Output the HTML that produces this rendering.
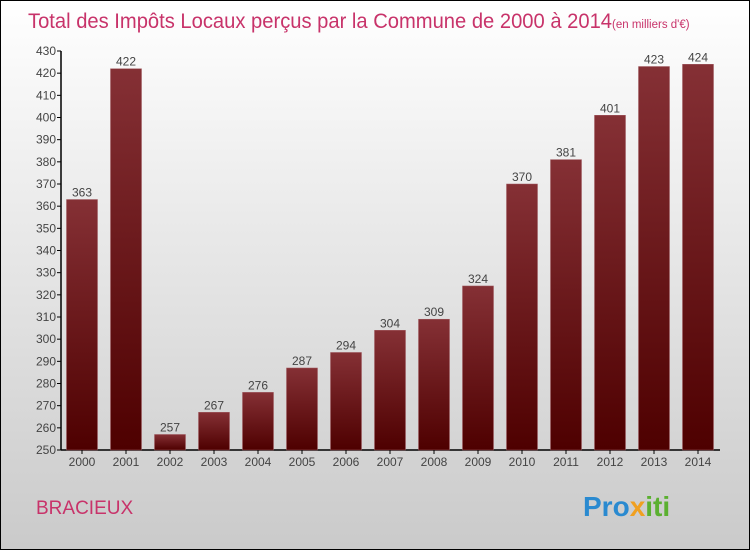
<!DOCTYPE html>
<html><head><meta charset="utf-8"><style>
html,body{margin:0;padding:0}
body{width:750px;height:550px;overflow:hidden;font-family:"Liberation Sans",sans-serif}
</style></head><body>
<svg width="750" height="550" xmlns="http://www.w3.org/2000/svg">
<defs>
<linearGradient id="bg" x1="0" y1="0" x2="0" y2="1"><stop offset="0" stop-color="#ffffff"/><stop offset="1" stop-color="#cacaca"/></linearGradient>
<linearGradient id="bar" x1="0" y1="0" x2="0" y2="1"><stop offset="0" stop-color="#853035"/><stop offset="1" stop-color="#4e0000"/></linearGradient>
</defs>
<rect x="0.5" y="0.5" width="749" height="549" fill="url(#bg)" stroke="#000"/>
<text x="28" y="28" font-size="21" fill="#c8336a"><tspan textLength="584" lengthAdjust="spacingAndGlyphs">Total des Impôts Locaux perçus par la Commune de 2000 à 2014</tspan><tspan font-size="11.5">(en milliers d'€)</tspan></text>
<text x="36" y="514" font-size="19" fill="#c8336a">BRACIEUX</text>
<text x="583" y="516" font-size="28" font-weight="bold"><tspan fill="#2a8ad0">Pro</tspan><tspan fill="#f0a020">x</tspan><tspan fill="#5bb030">iti</tspan></text>
<g id="plot"></g>
</svg>
<script>
const years=["2000","2001","2002","2003","2004","2005","2006","2007","2008","2009","2010","2011","2012","2013","2014"];
const values=[363,422,257,267,276,287,294,304,309,324,370,381,401,423,424];
const ticks=[250,260,270,280,290,300,310,320,330,340,350,360,370,380,390,400,410,420,430];
const NS="http://www.w3.org/2000/svg";
const g=document.getElementById('plot');
const y0=450,y1=51,vmin=250,vmax=430;
function y(v){return y0-(v-vmin)*(y0-y1)/(vmax-vmin);}
function x(i){return 82+i*44;}
function mk(t,a){const e=document.createElementNS(NS,t);for(const k in a)e.setAttribute(k,a[k]);g.appendChild(e);return e;}
let ax=mk('line',{x1:61,y1:y1,x2:61,y2:y0,stroke:'#000','stroke-width':1.5});


let bx=mk('line',{x1:61,y1:y0,x2:720,y2:y0,stroke:'#000','stroke-width':1.5});


ticks.forEach(t=>{
 const tk=mk('line',{x1:57,x2:61,y1:y(t),y2:y(t),stroke:'#000'});
 
 
 const tl=mk('text',{x:56,y:y(t)+4,'font-size':12,fill:'#444','text-anchor':'end'});
 tl.textContent=t;
 
 
});
years.forEach((yr,i)=>{
 const v=values[i];
 const r=mk('rect',{x:x(i)-15.5,y:y(v),width:31,height:y0-y(v),fill:'url(#bar)',stroke:'#a05a60','stroke-width':0.5});
 
 
 const vl=mk('text',{x:x(i),y:y(v)-3,'font-size':12,fill:'#444','text-anchor':'middle'});
 vl.textContent=v;
 
 
 const tk=mk('line',{x1:x(i),x2:x(i),y1:y0,y2:y0+4,stroke:'#000'});
 
 
 const xl=mk('text',{x:x(i),y:466,'font-size':12,fill:'#444','text-anchor':'middle'});
 xl.textContent=yr;
 
 
});
</script>
</body></html>
